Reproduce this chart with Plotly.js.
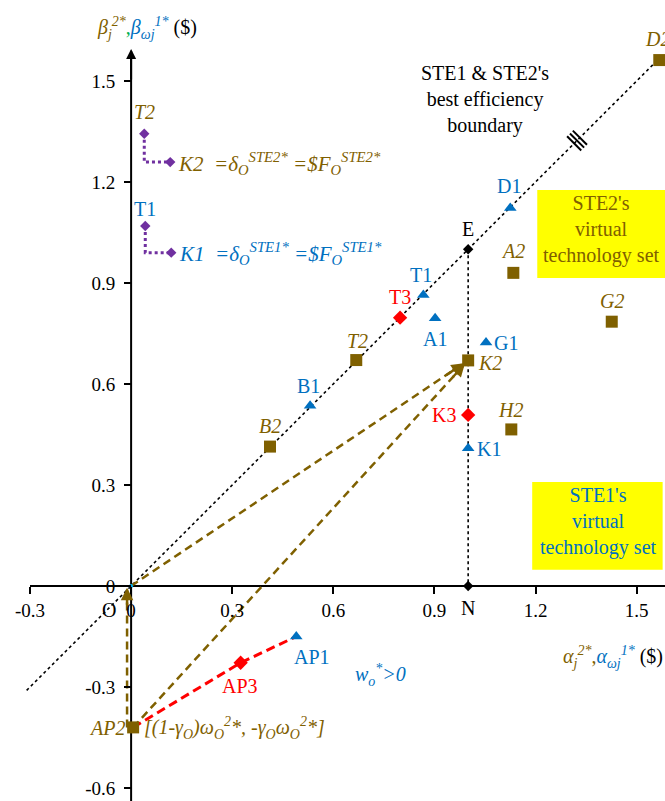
<!DOCTYPE html>
<html>
<head>
<meta charset="utf-8">
<script src="https://cdn.plot.ly/plotly-3.0.1.min.js"></script>
<style>html,body{margin:0;padding:0;background:#fff;}</style>
</head>
<body>
<div id="chart" style="width:665px;height:801px;"></div>
<script>
// ---------- data ----------
const xTicks = [-0.3, 0, 0.3, 0.6, 0.9, 1.2, 1.5];
const yTicks = [-0.6, -0.3, 0, 0.3, 0.6, 0.9, 1.2, 1.5];

// STE2 (brown squares)
const ste2Names = ['D2', 'A2', 'G2', 'T2', 'K2', 'H2', 'B2', 'AP2'];
const ste2X = [1.567, 1.134, 1.426, 0.668, 1.0, 1.128, 0.412, 0.006];
const ste2Y = [1.562, 0.930, 0.785, 0.671, 0.670, 0.465, 0.414, -0.420];

// STE1 (blue triangles)
const ste1Names = ['D1', 'T1', 'A1', 'G1', 'B1', 'K1', 'AP1'];
const ste1X = [1.125, 0.867, 0.902, 1.053, 0.531, 1.0, 0.490];
const ste1Y = [1.123, 0.864, 0.795, 0.723, 0.535, 0.409, -0.150];

// STE3 (red diamonds)
const ste3Names = ['T3', 'K3', 'AP3'];
const ste3X = [0.798, 1.0, 0.325];
const ste3Y = [0.797, 0.508, -0.228];

// reference points
const refNames = ['E', 'N'];
const refX = [1.0, 1.0];
const refY = [1.0, 0.0];

// best efficiency boundary (y = x)
const boundaryX = [-0.31, 1.567];
const boundaryY = [-0.31, 1.567];

// purple legend-like L markers
const purpleAX = [0.039, 0.039, 0.116];
const purpleAY = [1.343, 1.259, 1.259];
const purpleBX = [0.042, 0.042, 0.119];
const purpleBY = [1.069, 0.990, 0.990];

// ---------- styles ----------
const BROWN = '#7F6000';
const BLUE = '#0070C0';
const RED = '#FF0000';
const PURPLE = '#7030A0';
const FONT = 'Liberation Serif, Times New Roman, serif';
const LS = 20;   // label size

const xRange = [-0.389, 1.584];
const yRange = [-0.6386, 1.7404];

function idx(names, n) { return names.indexOf(n); }
const iK2 = idx(ste2Names, 'K2'), iAP2 = idx(ste2Names, 'AP2');
const iAP1 = idx(ste1Names, 'AP1'), iAP3 = idx(ste3Names, 'AP3');
const iE = idx(refNames, 'E'), iN = idx(refNames, 'N');

// triple tick marks across the boundary line (decoration, placed along the boundary)
const markT = 0.87;
const mcx = boundaryX[0] + markT * (boundaryX[1] - boundaryX[0]);
const mcy = boundaryY[0] + markT * (boundaryY[1] - boundaryY[0]);
const markX = [], markY = [];
[-1, 0, 1].forEach(k => {
  const ox = mcx + k * 0.0085, oy = mcy + k * 0.0085;
  markX.push(ox - 0.021, ox + 0.021, null);
  markY.push(oy + 0.021, oy - 0.021, null);
});

const traces = [];
traces.push({x: boundaryX, y: boundaryY, mode: 'lines', line: {color: '#000', width: 1.6, dash: 'dot'}, hoverinfo: 'skip'});
traces.push({x: markX, y: markY, mode: 'lines', line: {color: '#000', width: 2}, connectgaps: false, hoverinfo: 'skip'});
traces.push({x: [refX[iE], refX[iN]], y: [refY[iE], refY[iN]], mode: 'lines', line: {color: '#000', width: 1.6, dash: 'dot'}, hoverinfo: 'skip'});
traces.push({x: [0, ste2X[iK2]], y: [0, ste2Y[iK2]], mode: 'lines', line: {color: BROWN, width: 2.5, dash: '8px,5px'}, hoverinfo: 'skip'});
traces.push({x: [ste2X[iAP2], ste2X[iK2]], y: [ste2Y[iAP2], ste2Y[iK2]], mode: 'lines', line: {color: BROWN, width: 2.5, dash: '8px,5px'}, hoverinfo: 'skip'});
traces.push({x: [-0.012, -0.012], y: [ste2Y[iAP2], -0.01], mode: 'lines', line: {color: BROWN, width: 2.5, dash: '8px,5px'}, hoverinfo: 'skip'});
traces.push({x: [ste2X[iAP2], ste3X[iAP3], ste1X[iAP1]], y: [ste2Y[iAP2], ste3Y[iAP3], ste1Y[iAP1]], mode: 'lines', line: {color: RED, width: 3, dash: '9px,5px'}, hoverinfo: 'skip'});
traces.push({x: purpleAX, y: purpleAY, mode: 'lines', line: {color: PURPLE, width: 3, dash: 'dot'}, hoverinfo: 'skip'});
traces.push({x: purpleBX, y: purpleBY, mode: 'lines', line: {color: PURPLE, width: 3, dash: 'dot'}, hoverinfo: 'skip'});
traces.push({x: [purpleAX[0], purpleAX[2], purpleBX[0], purpleBX[2]], y: [purpleAY[0], purpleAY[2], purpleBY[0], purpleBY[2]], mode: 'markers', marker: {symbol: 'diamond', size: 8, color: PURPLE}, hoverinfo: 'skip'});
traces.push({x: ste2X, y: ste2Y, mode: 'markers', marker: {symbol: 'square', size: 12, color: BROWN}, hoverinfo: 'skip'});
traces.push({x: ste1X, y: ste1Y, mode: 'markers', marker: {symbol: 'triangle-up', size: 11, color: BLUE}, hoverinfo: 'skip'});
traces.push({x: ste3X, y: ste3Y, mode: 'markers', marker: {symbol: 'diamond', size: 11, color: RED}, hoverinfo: 'skip'});
traces.push({x: refX, y: refY, mode: 'markers', marker: {symbol: 'diamond', size: 8, color: '#000'}, hoverinfo: 'skip'});
traces.push({x: [0], y: [0], mode: 'markers', marker: {symbol: 'circle', size: 4, color: '#00B0F0'}, hoverinfo: 'skip'});

const ann = [];
function lab(x, y, text, color, opts) {
  ann.push(Object.assign({x: x, y: y, xref: 'x', yref: 'y', text: text, showarrow: false,
    xanchor: 'center', yanchor: 'middle',
    font: {family: FONT, size: LS, color: color}}, opts || {}));
}
function pap(px, py, text, color, size, opts) {
  ann.push(Object.assign({x: px / 665, y: 1 - py / 801, xref: 'paper', yref: 'paper', text: text, showarrow: false,
    xanchor: 'center', yanchor: 'middle', align: 'center',
    font: {family: FONT, size: size, color: color}}, opts || {}));
}
const ste2Off = {D2: [-2, 21, 'center'], A2: [0, 22, 'center'], G2: [0, 21, 'center'], T2: [1, 19, 'center'], K2: [8, -3, 'left'], H2: [-1, 19, 'center'], B2: [0, 21, 'center'], AP2: [-6, -1, 'right']};
ste2Names.forEach((n, i) => { const o = ste2Off[n]; lab(ste2X[i], ste2Y[i], '<i>' + n + '</i>', BROWN, {xshift: o[0], yshift: o[1], xanchor: o[2]}); });
const ste1Off = {D1: [-1, 22, 'center'], T1: [-2, 20, 'center'], A1: [0, -21, 'center'], G1: [6, 0, 'left'], B1: [-2, 20, 'center'], K1: [7, -1, 'left'], AP1: [-4, -21, 'left']};
ste1Names.forEach((n, i) => { const o = ste1Off[n]; lab(ste1X[i], ste1Y[i], n, BLUE, {xshift: o[0], yshift: o[1], xanchor: o[2]}); });
const ste3Off = {T3: [0, 21, 'center'], K3: [-10, 0, 'right'], AP3: [-1, -23, 'center']};
ste3Names.forEach((n, i) => { const o = ste3Off[n]; lab(ste3X[i], ste3Y[i], n, RED, {xshift: o[0], yshift: o[1], xanchor: o[2]}); });
lab(refX[iE], refY[iE], 'E', '#000', {yshift: 20});
lab(refX[iN], refY[iN], 'N', '#000', {yshift: -22});
lab(0, 0, 'O', '#000', {xshift: -22, yshift: -24});

lab(ste2X[iAP2], ste2Y[iAP2], '<i>[(1-γ<sub>O</sub>)ω<sub>O</sub><sup>2</sup>*, -γ<sub>O</sub>ω<sub>O</sub><sup>2</sup>*]</i>', BROWN, {xshift: 9, yshift: -1, xanchor: 'left'});
pap(380, 675, '<i>w<sub>o</sub><sup>*</sup>>0</i>', BLUE, LS);

lab(purpleAX[0], purpleAY[0], '<i>T2</i>', BROWN, {yshift: 22});
lab(purpleAX[2], purpleAY[2], '<i>K2  =δ<sub>O</sub><sup>STE2*</sup> =$F<sub>O</sub><sup>STE2*</sup></i>', BROWN, {xanchor: 'left', xshift: 6, yshift: -1, font: {family: FONT, size: 21, color: BROWN}});
lab(purpleBX[0], purpleBY[0], 'T1', BLUE, {yshift: 17});
lab(purpleBX[2], purpleBY[2], '<i>K1  =δ<sub>O</sub><sup>STE1*</sup> =$F<sub>O</sub><sup>STE1*</sup></i>', BLUE, {xanchor: 'left', xshift: 6, yshift: -1, font: {family: FONT, size: 21, color: BLUE}});

pap(485, 100, "STE1 & STE2's<br>best efficiency<br>boundary", '#000', 20);

pap(601, 229, "STE2's<br>virtual<br>technology set", BROWN, 20);
pap(598, 521, "STE1's<br>virtual<br>technology set", BLUE, 20);

pap(95, 28, '<span style="color:' + BROWN + '"><i>β<sub>j</sub><sup>2*</sup></i></span><span style="color:#00B050">,</span><span style="color:' + BLUE + '"><i>β<sub>ωj</sub><sup>1*</sup></i></span> ($)',
  '#000', 20, {xanchor: 'left'});
pap(665, 657, '<span style="color:' + BROWN + '"><i>α<sub>j</sub><sup>2*</sup></i></span><span style="color:' + BROWN + '">,</span><span style="color:' + BLUE + '"><i>α<sub>ωj</sub><sup>1*</sup></i></span> ($)',
  '#000', 20, {xanchor: 'right'});

// arrowheads
ann.push({x: ste2X[iK2], y: ste2Y[iK2], ax: ste2X[iK2] - 0.07, ay: ste2Y[iK2] - 0.047, xref: 'x', yref: 'y', axref: 'x', ayref: 'y', text: '', showarrow: true, arrowhead: 2, arrowsize: 1, arrowwidth: 2.5, arrowcolor: BROWN, standoff: 5});
ann.push({x: ste2X[iK2], y: ste2Y[iK2], ax: ste2X[iK2] - 0.05, ay: ste2Y[iK2] - 0.0545, xref: 'x', yref: 'y', axref: 'x', ayref: 'y', text: '', showarrow: true, arrowhead: 2, arrowsize: 1, arrowwidth: 2.5, arrowcolor: BROWN, standoff: 5});
ann.push({x: -0.012, y: -0.005, ax: -0.012, ay: -0.06, xref: 'x', yref: 'y', axref: 'x', ayref: 'y', text: '', showarrow: true, arrowhead: 2, arrowsize: 1, arrowwidth: 2.5, arrowcolor: BROWN, standoff: 0});
ann.push({x: 0, y: 1.595, ax: 0, ay: 1.5, xref: 'x', yref: 'y', axref: 'x', ayref: 'y', text: '', showarrow: true, arrowhead: 2, arrowsize: 1, arrowwidth: 2, arrowcolor: '#000', standoff: 0});

const shapes = [
  {type: 'rect', xref: 'x', yref: 'y', x0: 1.205, x1: 1.59, y0: 0.915, y1: 1.176, fillcolor: '#FFFF00', line: {width: 0}, layer: 'below'},
  {type: 'rect', xref: 'x', yref: 'y', x0: 1.19, x1: 1.577, y0: 0.048, y1: 0.309, fillcolor: '#FFFF00', line: {width: 0}, layer: 'below'},
  {type: 'line', xref: 'x', yref: 'y', x0: -0.3, x1: 1.6, y0: 0, y1: 0, line: {color: '#000', width: 2}, layer: 'below'},
  {type: 'line', xref: 'x', yref: 'y', x0: 0, x1: 0, y0: -0.65, y1: 1.59, line: {color: '#000', width: 2}, layer: 'below'}
];

const layout = {
  width: 665, height: 801,
  margin: {l: 0, r: 0, t: 0, b: 0},
  paper_bgcolor: '#fff', plot_bgcolor: '#fff',
  showlegend: false,
  font: {family: FONT, size: 19, color: '#000'},
  xaxis: {range: xRange, tickvals: xTicks, ticktext: xTicks.map(String), showgrid: false, zeroline: false, showline: false,
    ticks: 'outside', ticklen: 7, tickwidth: 2, tickcolor: '#000', anchor: 'free', position: (0 - yRange[0]) / (yRange[1] - yRange[0]),
    tickfont: {family: FONT, size: 19, color: '#000'}, fixedrange: true},
  yaxis: {range: yRange, tickvals: yTicks, ticktext: yTicks.map(String), showgrid: false, zeroline: false, showline: false,
    ticks: 'outside', ticklen: 7, tickwidth: 2, tickcolor: '#000', anchor: 'free', position: (0 - xRange[0]) / (xRange[1] - xRange[0]),
    tickfont: {family: FONT, size: 19, color: '#000'}, ticklabelstandoff: 5, fixedrange: true},
  shapes: shapes,
  annotations: ann
};

Plotly.newPlot('chart', traces, layout, {displayModeBar: false, staticPlot: true});
</script>
</body>
</html>
